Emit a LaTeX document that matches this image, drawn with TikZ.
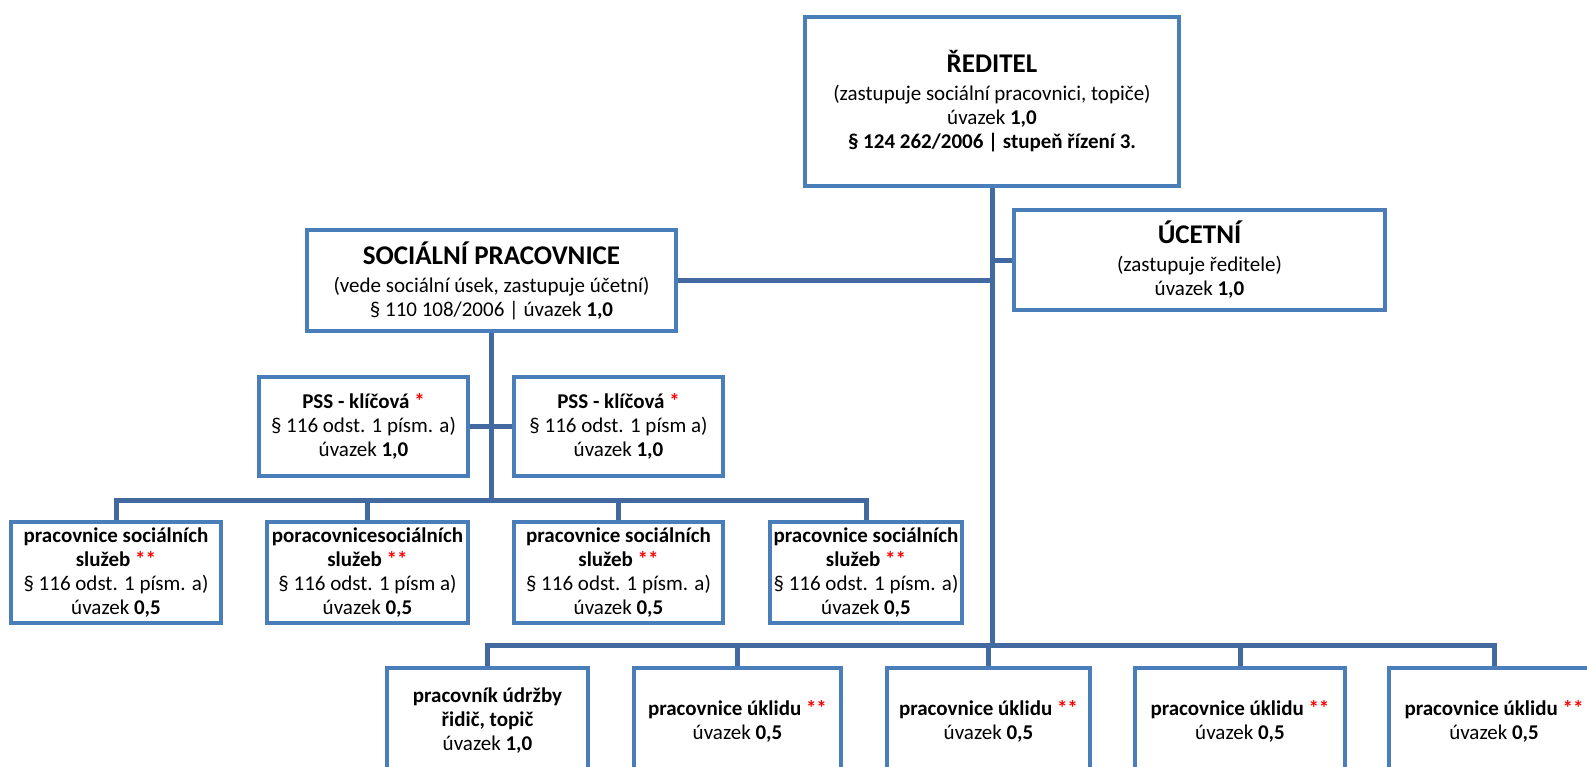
\documentclass[tikz,border=0pt]{standalone}
\usepackage{fontspec}
\setmainfont{Carlito}
\usetikzlibrary{calc}
\definecolor{boxblue}{RGB}{74,126,187}
\definecolor{linkblue}{RGB}{66,106,160}
\newcommand{\headtxt}[1]{{\fontsize{27}{30}\selectfont\bfseries #1}}
\newcommand{\rstar}[1]{\textcolor{red}{#1}}

\begin{document}
\begin{tikzpicture}[x=1pt,y=-1pt,
  box/.style={rectangle, draw=boxblue, line width=4.5pt, fill=white, align=center,
    inner sep=0pt, font=\fontsize{21}{24}\selectfont},
  link/.style={draw=linkblue, line width=5pt}]
\useasboundingbox (0,0) rectangle (1587,766);
\clip (0,0) rectangle (1587,766);

% vedeni
\node[box, minimum width=374pt, minimum height=169pt] (red) at (992,101.5)
  {\headtxt{ŘEDITEL}\\[4pt](zastupuje sociální pracovnici, topiče)\\úvazek \textbf{1,0}\\\textbf{§ 124 262/2006 | stupeň řízení 3.}};
\node[box, minimum width=371pt, minimum height=100pt] (ucet) at (1199.5,260)
  {\headtxt{ÚCETNÍ}\\[4pt](zastupuje ředitele)\\úvazek \textbf{1,0}};
\node[box, minimum width=369pt, minimum height=101pt] (socp) at (491.5,280.5)
  {\headtxt{SOCIÁLNÍ PRACOVNICE}\\[4pt](vede sociální úsek, zastupuje účetní)\\§ 110 108/2006 | úvazek \textbf{1,0}};

% klicove
\node[box, minimum width=209pt, minimum height=99pt] (pss1) at (363.5,426.5)
  {\textbf{PSS - klíčová \rstar{*}}\\§ 116 odst. 1 písm. a)\\úvazek \textbf{1,0}};
\node[box, minimum width=209pt, minimum height=99pt] (pss2) at (618.5,426.5)
  {\textbf{PSS - klíčová \rstar{*}}\\§ 116 odst. 1 písm a)\\úvazek \textbf{1,0}};

% pracovnice socialnich sluzeb
\node[box, minimum width=210pt, minimum height=101pt] (sa) at (116,572.5)
  {\textbf{pracovnice sociálních}\\\textbf{služeb \rstar{**}}\\§ 116 odst. 1 písm. a)\\úvazek \textbf{0,5}};
\node[box, minimum width=201pt, minimum height=101pt] (sb) at (367.5,572.5)
  {\textbf{poracovnicesociálních}\\\textbf{služeb \rstar{**}}\\§ 116 odst. 1 písm a)\\úvazek \textbf{0,5}};
\node[box, minimum width=209pt, minimum height=101pt] (sc) at (618.5,572.5)
  {\textbf{pracovnice sociálních}\\\textbf{služeb \rstar{**}}\\§ 116 odst. 1 písm. a)\\úvazek \textbf{0,5}};
\node[box, minimum width=192pt, minimum height=101pt] (sd) at (866,572.5)
  {\textbf{pracovnice sociálních}\\\textbf{služeb \rstar{**}}\\§ 116 odst. 1 písm. a)\\úvazek \textbf{0,5}};

% provoz
\node[box, minimum width=201pt, minimum height=106pt] (ua) at (487.5,721)
  {\textbf{pracovník údržby}\\\textbf{řidič, topič}\\úvazek \textbf{1,0}};
\foreach \k/\x/\w in {1/737.5/207, 2/988.5/203, 3/1240/210, 4/1494/210}
{\node[box, minimum width=\w pt, minimum height=106pt] (uk\k) at (\x,721)
  {\textbf{pracovnice úklidu \rstar{**}}\\úvazek \textbf{0,5}};}

% spojnice
\coordinate (bus1) at (491.5,500);
\coordinate (bus2) at (992,645);
\draw[link] (red.south) -- (bus2);
\draw[link] (socp.east) -- (socp.east -| red.south);
\draw[link] (ucet.west) -- (ucet.west -| red.south);
\draw[link] (socp.south) -- (bus1);
\draw[link] (pss1.east) -- (pss2.west);
\draw[link] (sa.north) |- (bus1) -| (sd.north);
\foreach \n in {sb,sc}
{\draw[link] (\n.north) -- (\n.north |- bus1);}
\draw[link] (ua.north) |- (bus2) -| (uk4.north);
\foreach \n in {uk1,uk2,uk3}
{\draw[link] (\n.north) -- (\n.north |- bus2);}

\end{tikzpicture}
\end{document}
